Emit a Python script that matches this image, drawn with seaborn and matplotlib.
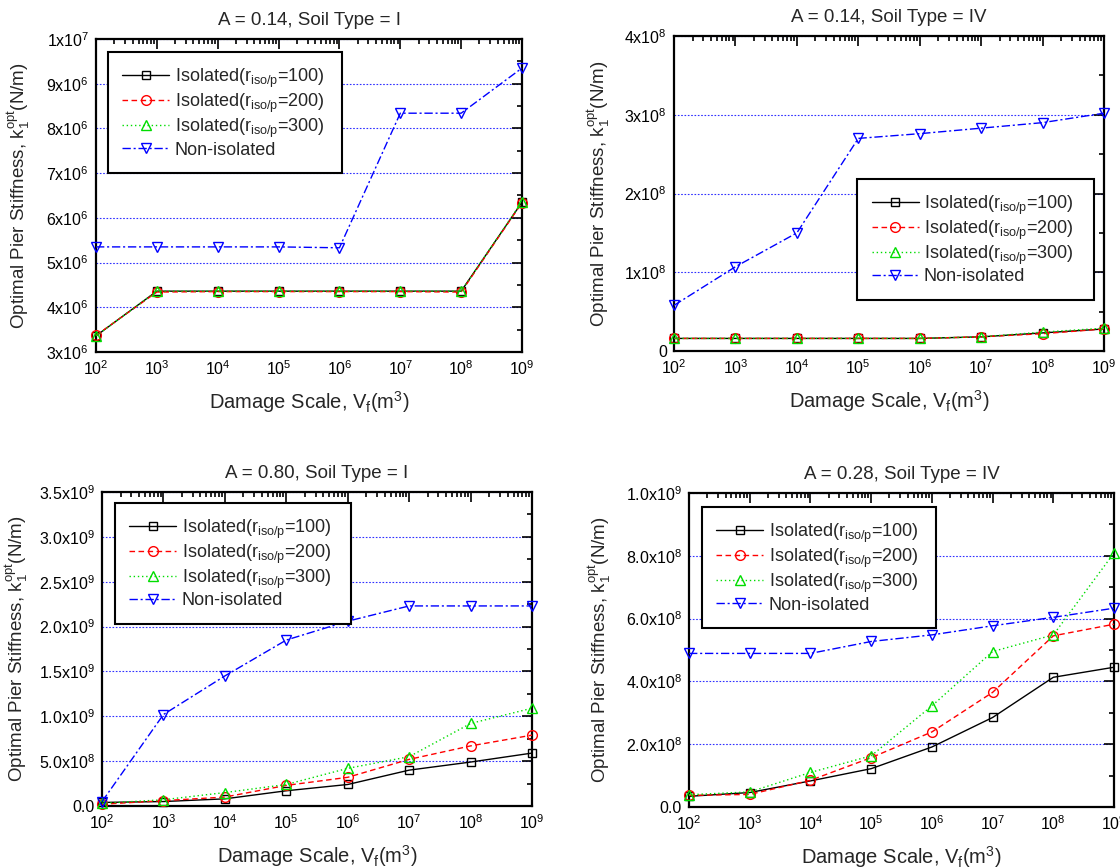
import numpy as np
import pandas as pd
import matplotlib
matplotlib.use('Agg')
import matplotlib.pyplot as plt
from matplotlib.ticker import AutoMinorLocator, LogLocator, NullFormatter
import seaborn as sns

# damage scale V_f (m^3)
vf = [1e2, 1e3, 1e4, 1e5, 1e6, 1e7, 1e8, 1e9]

# A = 0.14, soil type I
p1_iso100 = [3.36e6, 4.36e6, 4.36e6, 4.36e6, 4.36e6, 4.36e6, 4.36e6, 6.35e6]
p1_iso200 = [3.37e6, 4.34e6, 4.35e6, 4.35e6, 4.35e6, 4.35e6, 4.34e6, 6.34e6]
p1_iso300 = [3.36e6, 4.36e6, 4.36e6, 4.36e6, 4.36e6, 4.36e6, 4.36e6, 6.36e6]
p1_non = [5.35e6, 5.35e6, 5.35e6, 5.35e6, 5.33e6, 8.34e6, 8.34e6, 9.35e6]

# A = 0.14, soil type IV
p2_iso100 = [0.16e8, 0.16e8, 0.16e8, 0.16e8, 0.16e8, 0.18e8, 0.23e8, 0.28e8]
p2_iso200 = [0.16e8, 0.16e8, 0.16e8, 0.16e8, 0.16e8, 0.18e8, 0.22e8, 0.28e8]
p2_iso300 = [0.16e8, 0.16e8, 0.16e8, 0.16e8, 0.16e8, 0.18e8, 0.24e8, 0.29e8]
p2_non = [0.58e8, 1.07e8, 1.50e8, 2.70e8, 2.76e8, 2.83e8, 2.90e8, 3.02e8]

# A = 0.80, soil type I
p3_iso100 = [0.04e9, 0.05e9, 0.08e9, 0.17e9, 0.24e9, 0.40e9, 0.49e9, 0.59e9]
p3_iso200 = [0.02e9, 0.06e9, 0.10e9, 0.23e9, 0.32e9, 0.52e9, 0.67e9, 0.79e9]
p3_iso300 = [0.03e9, 0.07e9, 0.15e9, 0.24e9, 0.42e9, 0.55e9, 0.92e9, 1.09e9]
p3_non = [0.05e9, 1.02e9, 1.45e9, 1.85e9, 2.06e9, 2.23e9, 2.23e9, 2.23e9]

# A = 0.28, soil type IV
p4_iso100 = [0.34e8, 0.46e8, 0.83e8, 1.22e8, 1.91e8, 2.85e8, 4.13e8, 4.45e8]
p4_iso200 = [0.37e8, 0.40e8, 0.85e8, 1.57e8, 2.39e8, 3.65e8, 5.45e8, 5.82e8]
p4_iso300 = [0.39e8, 0.48e8, 1.10e8, 1.63e8, 3.22e8, 4.95e8, 5.48e8, 8.09e8]
p4_non = [4.89e8, 4.89e8, 4.89e8, 5.27e8, 5.48e8, 5.77e8, 6.04e8, 6.33e8]

titles = ['A = 0.14, Soil Type = I', 'A = 0.14, Soil Type = IV',
          'A = 0.80, Soil Type = I', 'A = 0.28, Soil Type = IV']
series_labels = [r'Isolated(r$_{\mathrm{iso/p}}$=100)',
                 r'Isolated(r$_{\mathrm{iso/p}}$=200)',
                 r'Isolated(r$_{\mathrm{iso/p}}$=300)',
                 'Non-isolated']

p1_yticks = [3e6, 4e6, 5e6, 6e6, 7e6, 8e6, 9e6, 1e7]
p1_ylabels = ['3x10$^{6}$', '4x10$^{6}$', '5x10$^{6}$', '6x10$^{6}$',
              '7x10$^{6}$', '8x10$^{6}$', '9x10$^{6}$', '1x10$^{7}$']
p2_yticks = [0, 1e8, 2e8, 3e8, 4e8]
p2_ylabels = ['0', '1x10$^{8}$', '2x10$^{8}$', '3x10$^{8}$', '4x10$^{8}$']
p3_yticks = [0, 0.5e9, 1.0e9, 1.5e9, 2.0e9, 2.5e9, 3.0e9, 3.5e9]
p3_ylabels = ['0.0', '5.0x10$^{8}$', '1.0x10$^{9}$', '1.5x10$^{9}$',
              '2.0x10$^{9}$', '2.5x10$^{9}$', '3.0x10$^{9}$', '3.5x10$^{9}$']
p4_yticks = [0, 2e8, 4e8, 6e8, 8e8, 1e9]
p4_ylabels = ['0.0', '2.0x10$^{8}$', '4.0x10$^{8}$', '6.0x10$^{8}$',
              '8.0x10$^{8}$', '1.0x10$^{9}$']

sns.set_style('white')
plt.rcParams['font.family'] = ['Liberation Sans', 'DejaVu Sans']
plt.rcParams['mathtext.fontset'] = 'custom'
plt.rcParams['mathtext.rm'] = 'Liberation Sans'
plt.rcParams['mathtext.it'] = 'Liberation Sans:italic'
plt.rcParams['mathtext.default'] = 'regular'

colors = ['black', 'red', '#00dd00', 'blue']
markers = ['s', 'o', '^', 'v']
msizes = [6, 7, 7, 7]
dashes = ['-', (0, (4, 2.5)), (0, (1, 2)), (0, (6, 2, 1.5, 2))]

panels = [
    dict(pos=[0.0857, 0.5945, 0.3804, 0.3606], data=[p1_iso100, p1_iso200, p1_iso300, p1_non],
         yticks=p1_yticks, ylabels=p1_ylabels, ylab_x=-0.15,
         leg=(0.028, 0.62, 0.549, 0.338)),
    dict(pos=[0.6018, 0.5956, 0.3839, 0.3629], data=[p2_iso100, p2_iso200, p2_iso300, p2_non],
         yticks=p2_yticks, ylabels=p2_ylabels, ylab_x=-0.145,
         leg=(0.426, 0.206, 0.551, 0.34)),
    dict(pos=[0.0911, 0.0714, 0.3839, 0.3618], data=[p3_iso100, p3_iso200, p3_iso300, p3_non],
         yticks=p3_yticks, ylabels=p3_ylabels, ylab_x=-0.168,
         leg=(0.03, 0.624, 0.55, 0.341)),
    dict(pos=[0.6152, 0.0703, 0.3795, 0.3618], data=[p4_iso100, p4_iso200, p4_iso300, p4_non],
         yticks=p4_yticks, ylabels=p4_ylabels, ylab_x=-0.18,
         leg=(0.03, 0.618, 0.55, 0.337)),
]

fig = plt.figure(figsize=(11.2, 8.68), dpi=100)

for i, p in enumerate(panels):
    ax = fig.add_axes(p['pos'])
    for j, vals in enumerate(p['data']):
        sns.lineplot(x=vf, y=vals, ax=ax, color=colors[j], marker=markers[j],
                     linestyle=dashes[j], linewidth=1.0, markersize=msizes[j],
                     mfc='none', mec=colors[j], mew=1.0, label=series_labels[j],
                     zorder=3, clip_on=False)
    ax.set_xscale('log')
    ax.set_xlim(1e2, 1e9)
    ax.set_ylim(p['yticks'][0], p['yticks'][-1])
    ax.set_xticks(vf)
    ax.xaxis.set_minor_locator(LogLocator(base=10, subs=np.arange(2, 10)))
    ax.xaxis.set_minor_formatter(NullFormatter())
    ax.set_yticks(p['yticks'], p['ylabels'])
    ax.yaxis.set_minor_locator(AutoMinorLocator(2))
    ax.tick_params(which='both', direction='in', top=True, right=True,
                   width=1.2, labelsize=11.5, colors='black')
    ax.tick_params(which='major', length=7, pad=5)
    ax.tick_params(which='minor', length=3.5)
    for s in ax.spines.values():
        s.set_linewidth(1.6)
        s.set_color('black')
    ax.grid(axis='y', which='major', color='#3030ff', linestyle=(0, (1.5, 1.5)),
            linewidth=0.8, zorder=0)
    ax.set_title(titles[i], fontsize=13.5, pad=10)
    ax.set_xlabel('Damage Scale, V$_{f}$(m$^{3}$)', fontsize=14.5, labelpad=8)
    ax.set_ylabel('Optimal Pier Stiffness, k$_{1}^{opt}$(N/m)', fontsize=13.5)
    ax.yaxis.set_label_coords(p['ylab_x'], 0.5)
    leg = ax.legend(loc='upper left', bbox_to_anchor=p['leg'], mode='expand',
                    fontsize=13, frameon=True, fancybox=False, framealpha=1,
                    edgecolor='black', borderpad=0.8, labelspacing=0.1,
                    handlelength=2.6, handletextpad=0.3, borderaxespad=0)
    leg.get_frame().set_linewidth(1.5)
    leg.set_zorder(5)

fig.savefig('out.png', dpi=100)
